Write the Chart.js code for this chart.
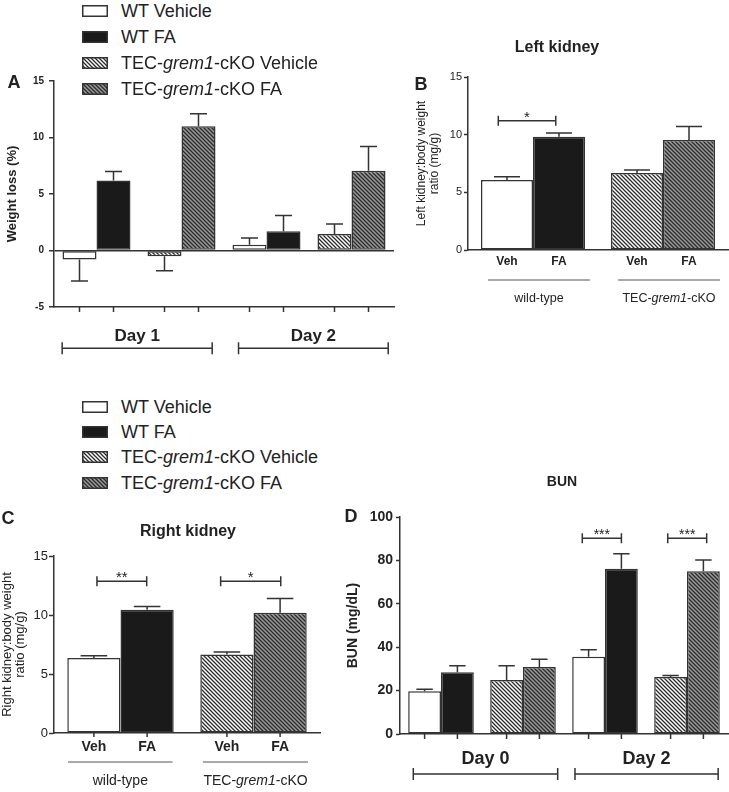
<!DOCTYPE html>
<html>
<head>
<meta charset="utf-8">
<script src="https://cdn.jsdelivr.net/npm/chart.js@4.4.0/dist/chart.umd.min.js"></script>
<style>
  body { margin: 0; background: #fff; }
  #fig { position: relative; width: 729px; height: 792px; overflow: hidden;
         font-family: 'Liberation Sans', Arial, Helvetica, sans-serif; color: #222; }
  #fig canvas.panel { position: absolute; }
  .leg-row { position: absolute; left: 82px; height: 22px; white-space: nowrap; z-index: 2; }
  .leg-row canvas { position: absolute; left: 0; top: 5px; }
  .leg-row span { position: absolute; left: 39px; top: 0; font-size: 18px; line-height: 22px; }
</style>
</head>
<body>
<div id="fig">
  <canvas id="chartA" class="panel" width="400" height="300" style="left:0;top:60px"></canvas>
  <canvas id="chartB" class="panel" width="349" height="290" style="left:380px;top:30px"></canvas>
  <canvas id="chartC" class="panel" width="330" height="292" style="left:0;top:500px"></canvas>
  <canvas id="chartD" class="panel" width="399" height="332" style="left:330px;top:460px"></canvas>
</div>
<script>
// ---- data ----
const seriesNames = ['WT Vehicle', 'WT FA', 'TEC-grem1-cKO Vehicle', 'TEC-grem1-cKO FA'];

// A: weight loss (%), per day
const weightDays = ['Day 1', 'Day 2'];
const weightWtVeh = [-0.8, 0.5];
const weightWtVehErr = [1.9, 0.6];
const weightWtFa = [6.2, 1.7];
const weightWtFaErr = [0.8, 1.4];
const weightKoVeh = [-0.5, 1.45];
const weightKoVehErr = [1.3, 0.9];
const weightKoFa = [11.0, 7.05];
const weightKoFaErr = [1.1, 2.15];
const weightTicks = [-5, 0, 5, 10, 15];

// B, C: kidney:body weight ratio (mg/g), per genotype [wild-type, cKO]
const genotypes = ['wild-type', 'TEC-grem1-cKO'];
const treatments = ['Veh', 'FA'];
const leftVeh = [6.07, 6.68];
const leftVehErr = [0.28, 0.26];
const leftFa = [9.82, 9.54];
const leftFaErr = [0.33, 1.16];
const rightVeh = [6.36, 6.66];
const rightVehErr = [0.19, 0.2];
const rightFa = [10.45, 10.19];
const rightFaErr = [0.28, 1.2];
const kidneyTicks = [0, 5, 10, 15];

// D: BUN (mg/dL), per day
const bunDays = ['Day 0', 'Day 2'];
const bunWtVeh = [19.7, 35.6];
const bunWtVehErr = [0.9, 3.2];
const bunWtFa = [28.4, 76.2];
const bunWtFaErr = [3.1, 6.9];
const bunKoVeh = [24.9, 26.3];
const bunKoVehErr = [6.6, 0.7];
const bunKoFa = [30.9, 75.0];
const bunKoFaErr = [3.5, 5.2];
const bunTicks = [0, 20, 40, 60, 80, 100];

// ---- styling ----
const FONT = "'Liberation Sans', Arial, Helvetica, sans-serif";
const INK = '#333';
Chart.defaults.font.family = FONT;
Chart.defaults.color = '#222';
Chart.defaults.animation = false;

function makeHatch(bg, fg) {
    const s = 4;
    const c = document.createElement('canvas');
    c.width = c.height = s;
    const g = c.getContext('2d');
    g.fillStyle = bg;
    g.fillRect(0, 0, s, s);
    g.strokeStyle = fg;
    g.lineWidth = 1.3;
    g.beginPath();
    g.moveTo(-1, -1); g.lineTo(s + 1, s + 1);
    g.moveTo(-1, s - 1); g.lineTo(1, s + 1);
    g.moveTo(s - 1, -1); g.lineTo(s + 1, 1);
    g.stroke();
    return g.createPattern(c, 'repeat');
}

const fills = ['#ffffff', '#1a1a1a', makeHatch('#ffffff', '#2a2a2a'), makeHatch('#9a9a9a', '#2a2a2a')];

// text with the gene name in italics
function drawRich(ctx, text, cx, cy, size, weight) {
    const parts = text.split(/(grem1)/).filter(Boolean);
    const fontOf = p => (p === 'grem1' ? 'italic ' : '') + weight + ' ' + size + 'px ' + FONT;
    let w = 0;
    parts.forEach(p => { ctx.font = fontOf(p); w += ctx.measureText(p).width; });
    let x = cx - w / 2;
    ctx.textAlign = 'left';
    ctx.textBaseline = 'middle';
    parts.forEach(p => {
        ctx.font = fontOf(p);
        ctx.fillText(p, x, cy);
        x += ctx.measureText(p).width;
    });
}

// error bars, axis ticks, group labels, significance brackets, titles
const decor = {
    id: 'decor',
    afterDatasetsDraw(chart, args, o) {
        const ctx = chart.ctx, xs = chart.scales.x, ys = chart.scales.y, area = chart.chartArea;
        ctx.save();
        ctx.strokeStyle = INK;
        ctx.fillStyle = '#222';
        ctx.lineWidth = 1.5;

        chart.data.datasets.forEach((ds, di) => {
            chart.getDatasetMeta(di).data.forEach((bar, i) => {
                const v = ds.data[i];
                if (v == null) return;
                const e = ds.errors[i];
                const end = ys.getPixelForValue(v < 0 ? v - e : v + e);
                const half = bar.width / 4;
                ctx.beginPath();
                ctx.moveTo(bar.x, bar.y); ctx.lineTo(bar.x, end);
                ctx.moveTo(bar.x - half, end); ctx.lineTo(bar.x + half, end);
                ctx.stroke();
                if (o.xTicks) {
                    ctx.beginPath();
                    ctx.moveTo(bar.x, area.bottom); ctx.lineTo(bar.x, area.bottom + o.xTicks);
                    ctx.stroke();
                }
                if (o.barLabels) {
                    ctx.font = 'bold ' + o.barLabels.size + 'px ' + FONT;
                    ctx.textAlign = 'center';
                    ctx.textBaseline = 'middle';
                    ctx.fillText(o.barLabels.texts[di % 2], bar.x, area.bottom + o.barLabels.dy);
                }
            });
        });

        const g = o.groups;
        if (g) {
            g.spans.forEach((sp, k) => {
                const x0 = xs.getPixelForValue(sp[0]), x1 = xs.getPixelForValue(sp[1]);
                const ly = area.bottom + g.lineDy;
                ctx.strokeStyle = g.lineColor;
                ctx.lineWidth = g.lineWidth;
                ctx.beginPath();
                ctx.moveTo(x0, ly); ctx.lineTo(x1, ly);
                if (g.ends) {
                    ctx.moveTo(x0, ly - g.ends); ctx.lineTo(x0, ly + g.ends);
                    ctx.moveTo(x1, ly - g.ends); ctx.lineTo(x1, ly + g.ends);
                }
                ctx.stroke();
                drawRich(ctx, g.labels[k], (x0 + x1) / 2, area.bottom + g.textDy, g.size, g.weight);
            });
        }

        (o.sig || []).forEach(s => {
            const x0 = xs.getPixelForValue(s.from), x1 = xs.getPixelForValue(s.to);
            const yy = ys.getPixelForValue(s.at);
            ctx.strokeStyle = INK;
            ctx.lineWidth = 1.5;
            ctx.beginPath();
            ctx.moveTo(x0, yy); ctx.lineTo(x1, yy);
            ctx.moveTo(x0, yy - 5); ctx.lineTo(x0, yy + 5);
            ctx.moveTo(x1, yy - 5); ctx.lineTo(x1, yy + 5);
            ctx.stroke();
            ctx.font = o.sigSize + 'px ' + FONT;
            ctx.textAlign = 'center';
            ctx.textBaseline = 'alphabetic';
            ctx.fillText(s.text, (x0 + x1) / 2, yy + 1);
        });

        ctx.textAlign = 'center';
        ctx.textBaseline = 'middle';
        if (o.title) {
            ctx.font = 'bold ' + o.title.size + 'px ' + FONT;
            ctx.fillText(o.title.text, o.title.x, o.title.y);
        }
        if (o.letter) {
            ctx.font = 'bold 18px ' + FONT;
            ctx.fillText(o.letter.text, o.letter.x, o.letter.y);
        }
        ctx.restore();
    }
};

function barDataset(i, data, errors) {
    return {
        label: seriesNames[i],
        data: data,
        errors: errors,
        backgroundColor: fills[i],
        borderColor: INK,
        borderWidth: 1.5,
        borderSkipped: false,
        categoryPercentage: 0.8,
        barPercentage: 1.0,
        skipNull: true
    };
}

// put each day's value in the WT slot (0) or the cKO slot (1) of that day
function bySlot(vals, slot) {
    const out = [];
    vals.forEach(v => out.push(slot === 0 ? v : null, slot === 1 ? v : null));
    return out;
}

function makeChart(id, cfg) {
    return new Chart(document.getElementById(id), {
        type: 'bar',
        data: { labels: cfg.labels, datasets: cfg.datasets },
        options: {
            responsive: false,
            layout: { padding: cfg.padding },
            plugins: { legend: { display: false }, tooltip: { enabled: false }, decor: cfg.decor },
            scales: {
                x: {
                    grid: { display: false },
                    ticks: { display: false },
                    border: { color: INK, width: 1.5 },
                    afterFit: s => { s.height = cfg.xHeight; }
                },
                y: {
                    min: cfg.ticks[0],
                    max: cfg.ticks[cfg.ticks.length - 1],
                    afterBuildTicks: s => { s.ticks = cfg.ticks.map(v => ({ value: v })); },
                    grid: Object.assign({
                        drawOnChartArea: false, tickColor: INK, tickLength: cfg.tickLength, tickWidth: 1.5
                    }, cfg.grid || {}),
                    border: { color: INK, width: 1.5 },
                    ticks: { font: cfg.tickFont, padding: cfg.tickPadding, color: '#222' },
                    title: {
                        display: true, text: cfg.yTitle, font: cfg.yTitleFont, color: '#222',
                        padding: { top: cfg.yTitlePad, bottom: 0 }
                    },
                    afterFit: s => { s.width = cfg.yWidth; }
                }
            }
        },
        plugins: [decor]
    });
}

// A: weight loss
makeChart('chartA', {
    labels: ['Day 1 WT', 'Day 1 cKO', 'Day 2 WT', 'Day 2 cKO'],
    datasets: [
        barDataset(0, bySlot(weightWtVeh, 0), bySlot(weightWtVehErr, 0)),
        barDataset(1, bySlot(weightWtFa, 0), bySlot(weightWtFaErr, 0)),
        barDataset(2, bySlot(weightKoVeh, 1), bySlot(weightKoVehErr, 1)),
        barDataset(3, bySlot(weightKoFa, 1), bySlot(weightKoFaErr, 1))
    ],
    ticks: weightTicks,
    padding: { left: 0, top: 21, right: 6, bottom: 0 },
    xHeight: 53, yWidth: 54,
    tickLength: 5, tickPadding: 5,
    tickFont: { size: 10, weight: 'bold' },
    grid: {
        drawOnChartArea: true, lineWidth: 1.5,
        color: c => (c.tick && c.tick.value === 0 ? INK : 'rgba(0,0,0,0)')
    },
    yTitle: 'Weight loss (%)', yTitleFont: { size: 13, weight: 'bold' }, yTitlePad: 5,
    decor: {
        xTicks: 5,
        groups: {
            spans: [[-0.404, 1.361], [1.671, 3.432]], labels: weightDays,
            lineDy: 41.3, textDy: 29, ends: 6, size: 17, weight: 'bold', lineColor: INK, lineWidth: 1.5
        },
        letter: { text: 'A', x: 14, y: 23 }
    }
});

// B: left kidney
makeChart('chartB', {
    labels: genotypes,
    datasets: [
        barDataset(0, [leftVeh[0], null], [leftVehErr[0], null]),
        barDataset(1, [leftFa[0], null], [leftFaErr[0], null]),
        barDataset(2, [null, leftVeh[1]], [null, leftVehErr[1]]),
        barDataset(3, [null, leftFa[1]], [null, leftFaErr[1]])
    ],
    ticks: kidneyTicks,
    padding: { left: 30, top: 47, right: 1, bottom: 0 },
    xHeight: 70, yWidth: 58,
    tickLength: 4, tickPadding: 2,
    tickFont: { size: 11 },
    yTitle: ['Left kidney:body weight', 'ratio (mg/g)'],
    yTitleFont: { size: 12, lineHeight: 1.1 }, yTitlePad: 5,
    decor: {
        barLabels: { texts: treatments, dy: 12, size: 12 },
        groups: {
            spans: [[-0.346, 0.438], [0.654, 1.438]], labels: genotypes,
            lineDy: 30, textDy: 49, ends: 0, size: 12.5, weight: 'normal', lineColor: '#555', lineWidth: 1
        },
        sig: [{ from: -0.267, to: 0.175, at: 11.2, text: '*' }],
        sigSize: 15,
        title: { text: 'Left kidney', x: 177, y: 18, size: 16 },
        letter: { text: 'B', x: 41, y: 55 }
    }
});

// C: right kidney
makeChart('chartC', {
    labels: genotypes,
    datasets: [
        barDataset(0, [rightVeh[0], null], [rightVehErr[0], null]),
        barDataset(1, [rightFa[0], null], [rightFaErr[0], null]),
        barDataset(2, [null, rightVeh[1]], [null, rightVehErr[1]]),
        barDataset(3, [null, rightFa[1]], [null, rightFaErr[1]])
    ],
    ticks: kidneyTicks,
    padding: { left: 0, top: 56, right: 10, bottom: 0 },
    xHeight: 59, yWidth: 54,
    tickLength: 5, tickPadding: 1,
    tickFont: { size: 13 },
    yTitle: ['Right kidney:body weight', 'ratio (mg/g)'],
    yTitleFont: { size: 13, lineHeight: 1.0 }, yTitlePad: 1,
    decor: {
        xTicks: 4,
        barLabels: { texts: treatments, dy: 14, size: 14 },
        groups: {
            spans: [[-0.395, 0.392], [0.62, 1.41]], labels: genotypes,
            lineDy: 29, textDy: 48.4, ends: 0, size: 14, weight: 'normal', lineColor: '#555', lineWidth: 1
        },
        sig: [
            { from: -0.177, to: 0.197, at: 12.85, text: '**' },
            { from: 0.753, to: 1.205, at: 12.85, text: '*' }
        ],
        sigSize: 15,
        title: { text: 'Right kidney', x: 188, y: 32, size: 16 },
        letter: { text: 'C', x: 8, y: 19 }
    }
});

// D: BUN
makeChart('chartD', {
    labels: ['Day 0 WT', 'Day 0 cKO', 'Day 2 WT', 'Day 2 cKO'],
    datasets: [
        barDataset(0, bySlot(bunWtVeh, 0), bySlot(bunWtVehErr, 0)),
        barDataset(1, bySlot(bunWtFa, 0), bySlot(bunWtFaErr, 0)),
        barDataset(2, bySlot(bunKoVeh, 1), bySlot(bunKoVehErr, 1)),
        barDataset(3, bySlot(bunKoFa, 1), bySlot(bunKoFaErr, 1))
    ],
    ticks: bunTicks,
    padding: { left: 0, top: 57, right: 1, bottom: 0 },
    xHeight: 58, yWidth: 70,
    tickLength: 4, tickPadding: 3,
    tickFont: { size: 14, weight: 'bold' },
    yTitle: 'BUN (mg/dL)', yTitleFont: { size: 14, weight: 'bold' }, yTitlePad: 15,
    decor: {
        xTicks: 5,
        groups: {
            spans: [[-0.338, 1.423], [1.634, 3.38]], labels: bunDays,
            lineDy: 40, textDy: 25.3, ends: 6, size: 18, weight: 'bold', lineColor: INK, lineWidth: 1.5
        },
        sig: [
            { from: 1.723, to: 2.2, at: 90.2, text: '***' },
            { from: 2.765, to: 3.24, at: 90.2, text: '***' }
        ],
        sigSize: 14,
        title: { text: 'BUN', x: 232, y: 22, size: 14 },
        letter: { text: 'D', x: 21, y: 57 }
    }
});

// legends (two copies, above A and above C)
function buildLegend(firstCenter, spacing) {
    const fig = document.getElementById('fig');
    seriesNames.forEach((name, i) => {
        const row = document.createElement('div');
        row.className = 'leg-row';
        row.style.top = (firstCenter + i * spacing - 11) + 'px';
        const sw = document.createElement('canvas');
        sw.width = 26; sw.height = 12;
        const g = sw.getContext('2d');
        g.fillStyle = fills[i];
        g.fillRect(0.75, 0.75, 24.5, 10.5);
        g.strokeStyle = INK;
        g.lineWidth = 1.5;
        g.strokeRect(0.75, 0.75, 24.5, 10.5);
        const label = document.createElement('span');
        label.innerHTML = name.replace('grem1', '<i>grem1</i>');
        row.appendChild(sw);
        row.appendChild(label);
        fig.appendChild(row);
    });
}
buildLegend(11, 26);
buildLegend(406.5, 25.4);
</script>
</body>
</html>
